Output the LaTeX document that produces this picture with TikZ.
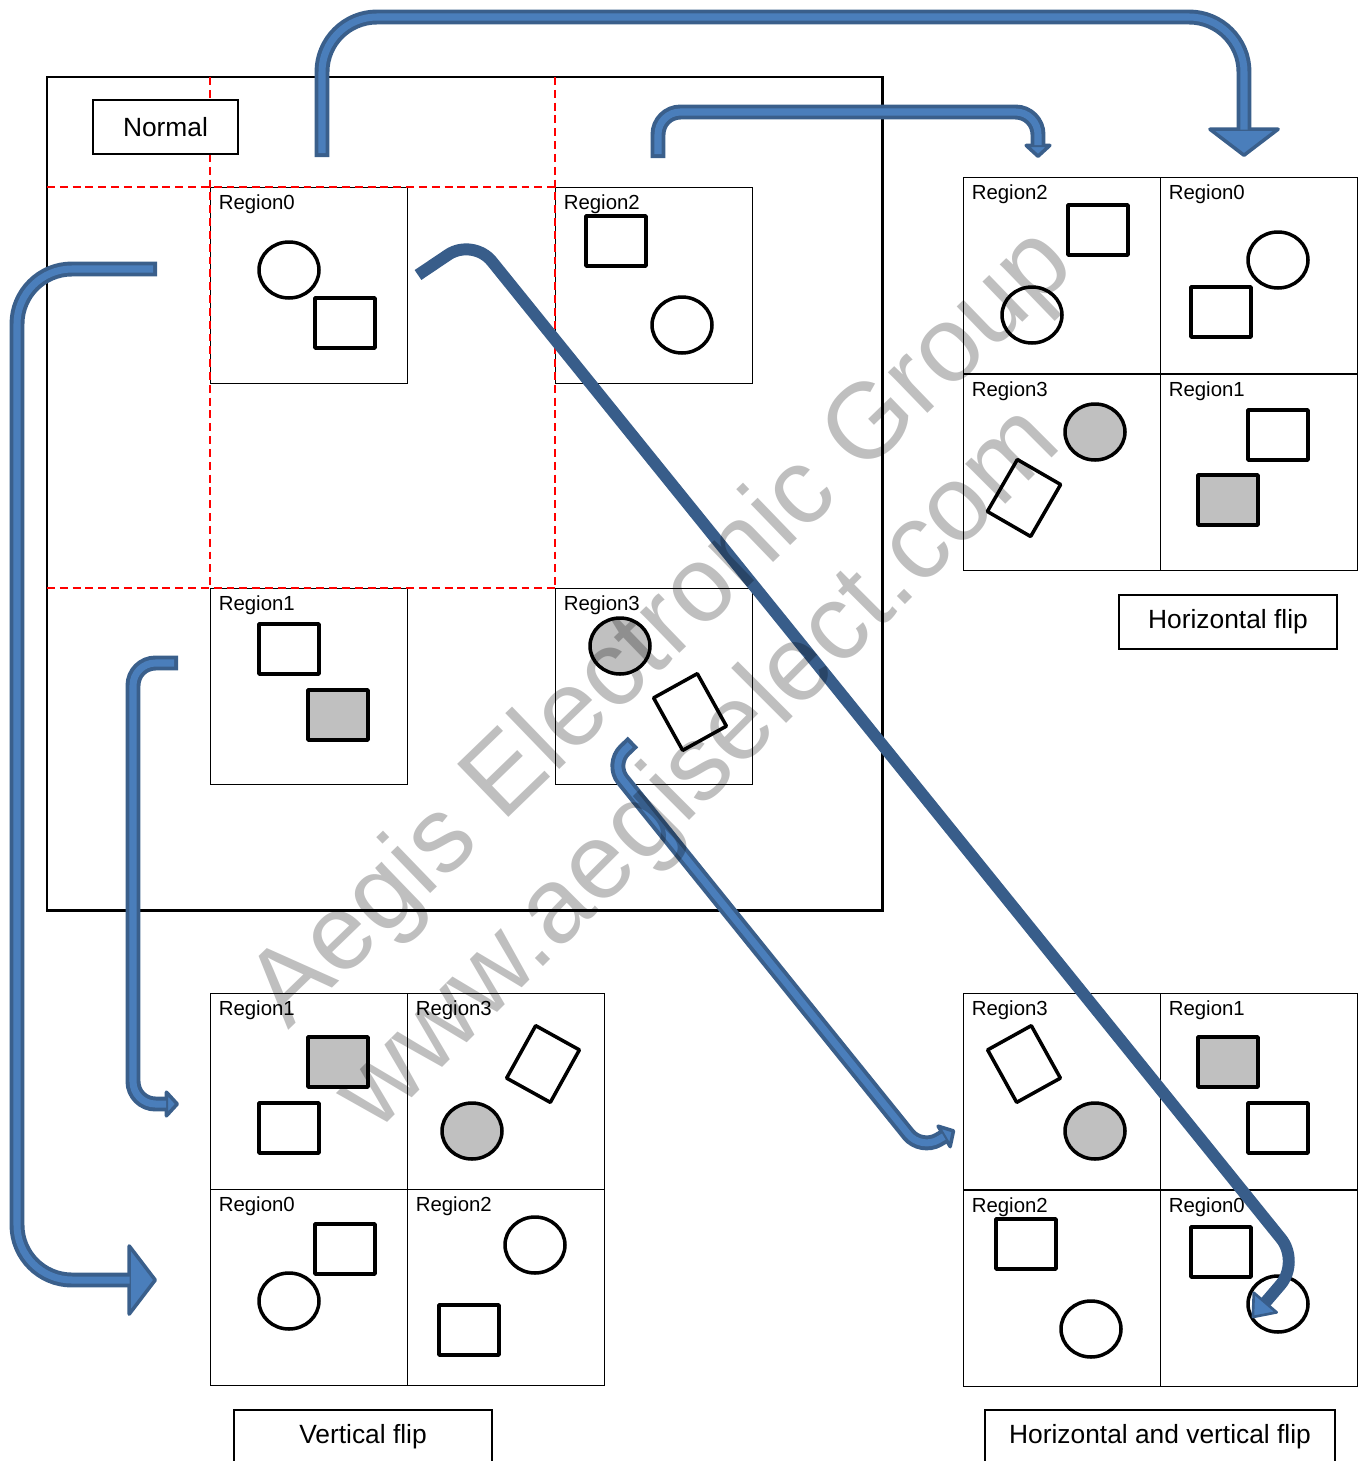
\documentclass[tikz,border=0pt]{standalone}
\usepackage{fontspec}
\setmainfont{Liberation Sans}
\usetikzlibrary{arrows.meta,positioning}
\usepackage{xcolor}
\definecolor{flInk}{HTML}{000000}
\definecolor{flEdge}{HTML}{3A5F8B}
\definecolor{flFill}{HTML}{4A7EBB}
\definecolor{flDark}{HTML}{385D8A}
\definecolor{flShade}{HTML}{C0C0C0}
\definecolor{flGuide}{HTML}{FF0000}
\tikzset{
  regbox/.style={draw=flInk, line width=0.7pt, minimum width=3.94cm, minimum height=3.92cm, inner sep=0pt, anchor=north west},
  reglbl/.style={anchor=north west, inner sep=0pt, xshift=0.17cm, yshift=-0.15cm, font=\fontsize{11.6}{14}\selectfont},
  capbox/.style={draw=flInk, fill=white, line width=0.7pt, minimum height=1.08cm, inner sep=0pt, font=\fontsize{15}{18}\selectfont},
  shp/.style={draw=flInk, line width=2pt, line join=round},
  shpG/.style={shp, fill=flShade},
  tilt/.style={shp, minimum width=1.0cm, minimum height=1.2cm, inner sep=0pt},
  guide/.style={draw=flGuide, line width=0.8pt, dash pattern=on 4.5pt off 2.8pt},
  flowL/.style={preaction={draw=flEdge, line width=8.5pt, shorten <=0pt, shorten >=0pt, -{Triangle[length=0.6cm, width=1.56cm, fill=flFill, line width=2pt, round]}}, draw=flFill, line width=4pt, rounded corners=1.1cm, shorten <=0.08cm, shorten >=0.55cm},
  flowS/.style={preaction={draw=flEdge, line width=8.5pt, shorten <=0pt, shorten >=0pt, -{Triangle[length=0.3cm, width=0.64cm, fill=flFill, line width=2pt, round]}}, draw=flFill, line width=4pt, rounded corners=0.45cm, shorten <=0.08cm, shorten >=0.26cm},
  flowD/.style={draw=flDark, line width=6.8pt, rounded corners=0.6cm, -{Triangle[length=0.45cm, width=0.7cm, fill=flFill, line width=1.5pt, round]}},
  wmark/.style={text=black, text opacity=0.25, inner sep=0pt, anchor=base, font=\fontsize{61}{74}\selectfont},
}
\begin{document}
\begin{tikzpicture}[x=0.02cm, y=-0.02cm]
\useasboundingbox (0,0) rectangle (1359,1461);
\clip (0,0) rectangle (1359,1461);

% normal
\draw[flInk, line width=1.7pt] (47,77) rectangle (882,910);
\foreach \nm/\x/\y/\lb in {nR0/210/187/Region0, nR2/555/187/Region2, nR1/210/588/Region1, nR3/555/588/Region3,
    hR2/963/177/Region2, hR0/1160/177/Region0, hR3/963/374/Region3, hR1/1160/374/Region1,
    vR1/210/993/Region1, vR3/407/993/Region3, vR0/210/1189/Region0, vR2/407/1189/Region2,
    bR3/963/993/Region3, bR1/1160/993/Region1, bR2/963/1190/Region2, bR0/1160/1190/Region0}
  {\node[regbox] (\nm) at (\x,\y) {};
   \node[reglbl] (\nm-l) at (\nm.north west) {\lb};}
\draw[guide] (47,187) -- (555,187) (47,588) -- (555,588) (210,77) -- (210,588) (555,77) -- (555,588);

\node[capbox, minimum width=2.9cm] (capN) at (165.5,127) {Normal};
\node[capbox, minimum width=4.36cm] (capH) at (1228,622) {Horizontal flip};
\node[capbox, minimum width=5.16cm] (capV) at (363,1437) {Vertical flip};
\node[capbox, minimum width=7.0cm] (capB) at (1160,1437) {Horizontal and vertical flip};

% shapes, normal
\draw[shp] (289,270) ellipse [x radius=0.6cm, y radius=0.56cm];
\draw[shp] (315,298) rectangle ++(60,50);
\draw[shp] (586,216) rectangle ++(60,50);
\draw[shp] (682,325) ellipse [x radius=0.6cm, y radius=0.56cm];
\draw[shp] (259,624) rectangle ++(60,50);
\draw[shpG] (308,690) rectangle ++(60,50);
\draw[shpG] (620,646) ellipse [x radius=0.6cm, y radius=0.56cm];
\node[tilt, rotate=29] (nT) at (690,712) {};

% shapes, horizontal flip
\draw[shp] (1068,205) rectangle ++(60,50);
\draw[shp] (1032,315) ellipse [x radius=0.6cm, y radius=0.56cm];
\draw[shp] (1278,260) ellipse [x radius=0.6cm, y radius=0.56cm];
\draw[shp] (1191,287) rectangle ++(60,50);
\draw[shpG] (1095,432) ellipse [x radius=0.6cm, y radius=0.56cm];
\node[tilt, rotate=-30] (hT) at (1024,498) {};
\draw[shp] (1248,410) rectangle ++(60,50);
\draw[shpG] (1198,475) rectangle ++(60,50);

% shapes, vertical flip
\draw[shpG] (308,1037) rectangle ++(60,50);
\draw[shp] (259,1103) rectangle ++(60,50);
\node[tilt, rotate=-29] (vT) at (543,1064) {};
\draw[shpG] (472,1131) ellipse [x radius=0.6cm, y radius=0.56cm];
\draw[shp] (315,1224) rectangle ++(60,50);
\draw[shp] (289,1301) ellipse [x radius=0.6cm, y radius=0.56cm];
\draw[shp] (535,1245) ellipse [x radius=0.6cm, y radius=0.56cm];
\draw[shp] (439,1305) rectangle ++(60,50);

% shapes, both
\node[tilt, rotate=29] (bT) at (1024,1064) {};
\draw[shpG] (1095,1131) ellipse [x radius=0.6cm, y radius=0.56cm];
\draw[shpG] (1198,1037) rectangle ++(60,50);
\draw[shp] (1248,1103) rectangle ++(60,50);
\draw[shp] (996,1219) rectangle ++(60,50);
\draw[shp] (1091,1329) ellipse [x radius=0.6cm, y radius=0.56cm];
\draw[shp] (1191,1227) rectangle ++(60,50);
\draw[shp] (1278,1304) ellipse [x radius=0.6cm, y radius=0.56cm];

% arrows
\coordinate (hfA) at (322,157);
\coordinate (hfB) at (1244,157);
\draw[flowL] (hfA) -- ++(0,-140) -| (hfB);
\coordinate (hsA) at (658,158);
\coordinate (hsB) at (1038,158);
\draw[flowS] (hsA) -- ++(0,-46) -| (hsB);
\coordinate (vfA) at (157,269);
\coordinate (vfB) at (157,1280);
\draw[flowL] (vfA) -- ++(-140,0) |- (vfB);
\coordinate (vsA) at (178,663);
\coordinate (vsB) at (179,1104);
\draw[flowS] (vsA) -- ++(-45,0) |- (vsB);
\coordinate (dsA) at (633,742);
\coordinate (dsP) at (610,764);
\coordinate (dsQ) at (921,1150);
\coordinate (dsB) at (955,1130);
\draw[flowS, rounded corners=0.4cm] (dsA) -- (dsP) -- (dsQ) -- (dsB);
\coordinate (dgA) at (418,275);
\coordinate (dgP) at (473,238);
\coordinate (dgQ) at (1300,1262);
\coordinate (dgB) at (1252,1318);
\draw[flowD] (dgA) -- (dgP) -- (dgQ) -- (dgB);

% watermark
\node[wmark, rotate=44] (wmA) at (683,650) {Aegis Electronic Group};
\node[wmark, rotate=45] (wmB) at (720,790) {www.aegiselect.com};
\end{tikzpicture}
\end{document}
